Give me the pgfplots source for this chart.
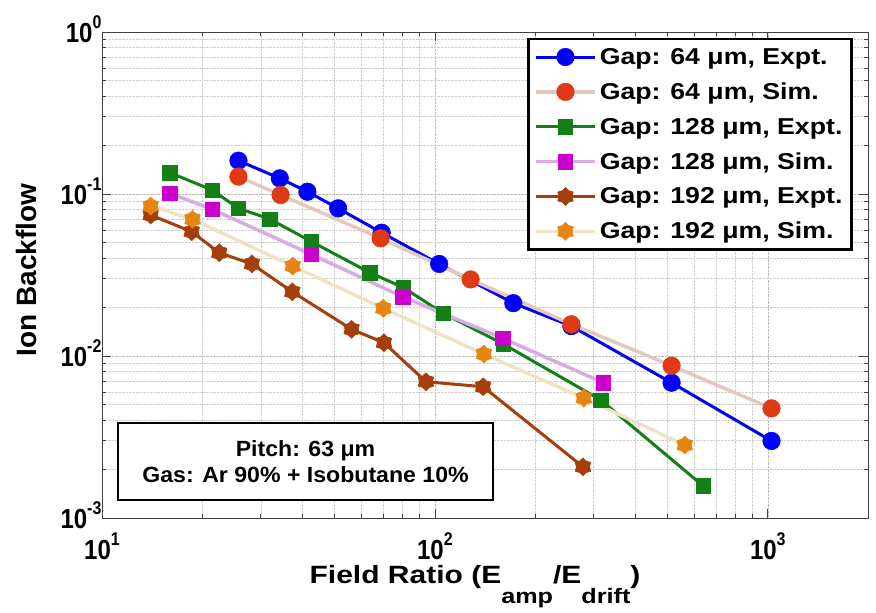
\documentclass[border=0pt]{standalone}
\usepackage{graphicx}
\usepackage{pgfplots}
\pgfplotsset{compat=1.18}
\usepackage{fontspec}
\setmainfont{Liberation Sans}

\definecolor{cBlue}{RGB}{0,0,255}
\definecolor{cRed}{RGB}{224,58,20}
\definecolor{cRedL}{RGB}{226,200,190}
\definecolor{cGreen}{RGB}{18,128,22}
\definecolor{cMag}{RGB}{204,0,204}
\definecolor{cMagL}{RGB}{215,172,225}
\definecolor{cBrown}{RGB}{165,62,10}
\definecolor{cOrange}{RGB}{232,132,18}
\definecolor{cOrangeL}{RGB}{240,226,196}

\pgfdeclareplotmark{hexagram}{%
  \pgfpathmoveto{\pgfpointpolar{90}{\pgfplotmarksize}}%
  \pgfpathlineto{\pgfpointpolar{120}{0.74\pgfplotmarksize}}%
  \pgfpathlineto{\pgfpointpolar{150}{\pgfplotmarksize}}%
  \pgfpathlineto{\pgfpointpolar{180}{0.74\pgfplotmarksize}}%
  \pgfpathlineto{\pgfpointpolar{210}{\pgfplotmarksize}}%
  \pgfpathlineto{\pgfpointpolar{240}{0.74\pgfplotmarksize}}%
  \pgfpathlineto{\pgfpointpolar{270}{\pgfplotmarksize}}%
  \pgfpathlineto{\pgfpointpolar{300}{0.74\pgfplotmarksize}}%
  \pgfpathlineto{\pgfpointpolar{330}{\pgfplotmarksize}}%
  \pgfpathlineto{\pgfpointpolar{0}{0.74\pgfplotmarksize}}%
  \pgfpathlineto{\pgfpointpolar{30}{\pgfplotmarksize}}%
  \pgfpathlineto{\pgfpointpolar{60}{0.74\pgfplotmarksize}}%
  \pgfpathclose
  \pgfusepathqfillstroke
}

\newcommand\tklab[1]{\scalebox{1}[1.15]{10\raisebox{12pt}{\fontsize{16}{16}\selectfont #1}}}
\newcommand\legtxt[1]{\scalebox{1.16}[1]{#1}}

\pgfplotstableread{
x y
25.7 0.1606
34.2 0.125
41.4 0.1033
51.2 0.0816
69.2 0.0577
103 0.0370
172 0.0212
257 0.0153
514 0.00684
1026 0.00299
}\blueE
\pgfplotstableread{
x y
25.7 0.128
34.4 0.0986
68.7 0.0533
128 0.0297
257 0.0157
514 0.00871
1026 0.00475
}\redS
\pgfplotstableread{
x y
16.0 0.1354
21.4 0.1059
25.7 0.0816
31.9 0.0701
42.6 0.0508
63.8 0.0327
80.3 0.0265
105.9 0.01835
160.4 0.01186
315 0.00535
639 0.00158
}\greenE
\pgfplotstableread{
x y
16.0 0.101
21.4 0.0805
42.6 0.0424
80.0 0.0232
160 0.01286
320 0.00685
}\magS
\pgfplotstableread{
x y
14.0 0.0742
18.6 0.0585
22.5 0.0434
28.2 0.0370
37.3 0.0249
56.2 0.01462
70.3 0.01208
94 0.00694
139.6 0.00646
278.5 0.00207
}\brownE
\pgfplotstableread{
x y
14.0 0.0843
18.7 0.0698
37.4 0.0359
70.0 0.0197
140.3 0.01028
280 0.0055
563 0.00282
}\orangeS

\begin{document}
\begin{tikzpicture}
\useasboundingbox (-102pt,-95pt) rectangle (774pt,518pt);
\begin{axis}[
  xmode=log, ymode=log,
  scale only axis, width=766pt, height=486pt,
  xmin=10, xmax=2000, ymin=1e-3, ymax=1,
  xtick={10,100,1000},
  xticklabels={\tklab{1},\tklab{2},\tklab{3}},
  ytick={0.001,0.01,0.1,1},
  yticklabels={\tklab{-3},\tklab{-2},\tklab{-1},\tklab{0}},
  minor xtick={20,30,40,50,60,70,80,90,200,300,400,500,600,700,800,900,2000},
  minor ytick={0.002,0.003,0.004,0.005,0.006,0.007,0.008,0.009,0.02,0.03,0.04,0.05,0.06,0.07,0.08,0.09,0.2,0.3,0.4,0.5,0.6,0.7,0.8,0.9},
  grid=both,
  major grid style={densely dotted, gray!55, line width=0.6pt},
  minor grid style={densely dotted, gray!38, line width=0.6pt},
  tick align=inside,
  major tick length=9pt, minor tick length=4.5pt,
  every tick/.style={black!75, line width=0.7pt},
  axis line style={black!75, line width=0.9pt},
  tick label style={font=\fontsize{24}{24}\selectfont\bfseries},
  xticklabel style={anchor=base, yshift=-41pt},
  yticklabel style={anchor=base east, yshift=-10pt, xshift=3pt},
  xlabel={\scalebox{1.2}[1]{Field Ratio (E\raisebox{-20pt}{\fontsize{21}{21}\selectfont amp}/E\raisebox{-20pt}{\fontsize{21}{21}\selectfont drift})}},
  xlabel style={at={(rel axis cs:0.487,0)}, anchor=base, yshift=-65pt, font=\fontsize{25}{25}\selectfont\bfseries},
  ylabel={Ion Backflow},
  ylabel style={at={(rel axis cs:0,0.51)}, anchor=center, rotate=0, yshift=76pt, font=\fontsize{28}{28}\selectfont\bfseries},
  legend cell align=left,
  legend style={at={(rel axis cs:0.980,0.9877)}, anchor=north east,
    draw=black, line width=2.5pt, fill=white,
    font=\fontsize{23}{23}\selectfont\bfseries,
    row sep=11pt, inner xsep=6pt, inner ysep=6pt,
    nodes={inner sep=3pt}},
  legend image code/.code={\draw[mark repeat=2,mark phase=2] plot coordinates {(0pt,0pt) (29.5pt,0pt) (59pt,0pt)};},
]
\addplot[color=cBlue, line width=3pt, mark=*, mark size=8.8pt, mark options={solid, fill=cBlue, draw=cBlue, line width=0.5pt}] table {\blueE};
\addlegendentry{\legtxt{Gap: 64 μm, Expt.}}
\addplot[color=cRedL, line width=3.5pt, mark=*, mark size=8.8pt, mark options={solid, fill=cRed, draw=cRed, line width=0.5pt}] table {\redS};
\addlegendentry{\legtxt{Gap: 64 μm, Sim.}}
\addplot[color=cGreen, line width=3pt, mark=square*, mark size=7.2pt, mark options={solid, fill=cGreen, draw=cGreen, line width=0.5pt}] table {\greenE};
\addlegendentry{\legtxt{Gap: 128 μm, Expt.}}
\addplot[color=cMagL, line width=3.5pt, mark=square*, mark size=7.2pt, mark options={solid, fill=cMag, draw=cMag, line width=0.5pt}] table {\magS};
\addlegendentry{\legtxt{Gap: 128 μm, Sim.}}
\addplot[color=cBrown, line width=3pt, mark=hexagram, mark size=9pt, mark options={solid, fill=cBrown, draw=cBrown, line width=0.5pt}] table {\brownE};
\addlegendentry{\legtxt{Gap: 192 μm, Expt.}}
\addplot[color=cOrangeL, line width=3.5pt, mark=hexagram, mark size=9pt, mark options={solid, fill=cOrange, draw=cOrange, line width=0.5pt}] table {\orangeS};
\addlegendentry{\legtxt{Gap: 192 μm, Sim.}}
\node[draw=black, line width=2.5pt, fill=white, minimum width=375pt, minimum height=77pt, align=center, font=\fontsize{22}{26}\selectfont\bfseries] at (rel axis cs:0.2657,0.1163) {\scalebox{1.05}[1]{Pitch: 63 μm}\\\scalebox{1.05}[1]{Gas: Ar 90\% + Isobutane 10\%}};
\end{axis}
\end{tikzpicture}
\end{document}
